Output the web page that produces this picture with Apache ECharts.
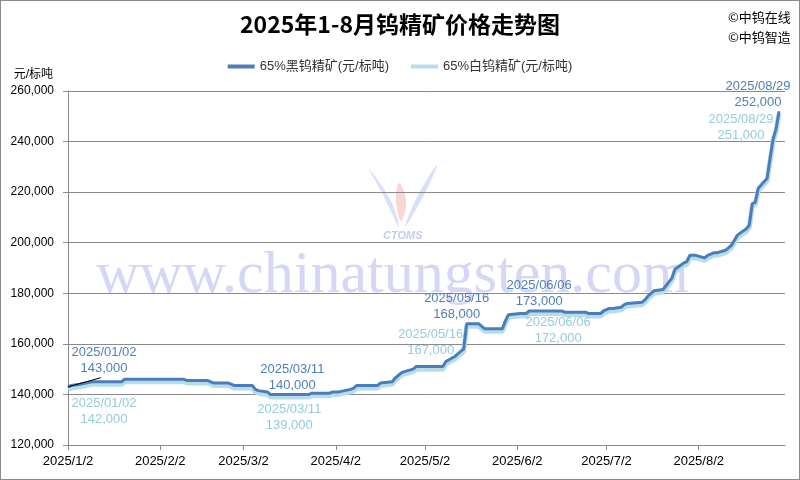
<!DOCTYPE html>
<html>
<head>
<meta charset="utf-8">
<script src="https://cdn.jsdelivr.net/npm/echarts@6/dist/echarts.min.js"></script>
<style>
html,body{margin:0;padding:0;background:#fff;}
#c{width:800px;height:480px;box-sizing:border-box;border:1px solid #8a8a8a;}
</style>
</head>
<body>
<div id="c"></div>
<script>
// ---- data ----
const dates = [
 '2025-01-02','2025-01-03','2025-01-06','2025-01-08','2025-01-10','2025-01-20','2025-01-21',
 '2025-02-10','2025-02-11','2025-02-18','2025-02-19','2025-02-20','2025-02-25','2025-02-26','2025-02-27',
 '2025-03-05','2025-03-06','2025-03-07','2025-03-10','2025-03-11','2025-03-24','2025-03-25','2025-03-31',
 '2025-04-01','2025-04-03','2025-04-07','2025-04-08','2025-04-09','2025-04-16','2025-04-17','2025-04-21',
 '2025-04-22','2025-04-24','2025-04-25','2025-04-28','2025-04-29',
 '2025-05-08','2025-05-09','2025-05-12','2025-05-13','2025-05-14','2025-05-15','2025-05-16','2025-05-20',
 '2025-05-21','2025-05-22','2025-05-28','2025-05-29','2025-05-30',
 '2025-06-03','2025-06-05','2025-06-06','2025-06-17','2025-06-18','2025-06-25','2025-06-26','2025-06-30',
 '2025-07-01','2025-07-02','2025-07-03','2025-07-04','2025-07-07','2025-07-08','2025-07-09','2025-07-14',
 '2025-07-15','2025-07-16','2025-07-17','2025-07-18','2025-07-21','2025-07-22','2025-07-23','2025-07-24',
 '2025-07-25','2025-07-28','2025-07-29','2025-07-30','2025-07-31',
 '2025-08-01','2025-08-04','2025-08-05','2025-08-06','2025-08-07','2025-08-08','2025-08-11','2025-08-12',
 '2025-08-13','2025-08-14','2025-08-15','2025-08-18','2025-08-19','2025-08-20','2025-08-21','2025-08-22',
 '2025-08-25','2025-08-26','2025-08-27','2025-08-28','2025-08-29'
];
const blackPrices = [
 143000,143500,144000,144500,145000,145000,146000,
 146000,145500,145500,145000,144500,144500,144000,143500,
 143500,142000,141500,141000,140000,140000,140500,140500,
 141000,141000,142000,142500,143500,143500,144500,145000,
 146500,148500,149000,150000,151000,
 151000,153000,155000,156000,157000,158000,168000,168000,
 167000,166000,166000,169000,171500,
 172000,172000,173000,173000,172500,172500,172000,172000,
 173000,173500,174000,174000,174500,175500,176000,176500,
 177500,179000,180000,181000,181500,183000,184500,186000,
 189500,192000,192500,195000,195000,
 195000,194000,195000,195500,196000,196000,197000,198000,
 199000,201000,203000,205500,207000,215500,216000,221500,
 225500,233500,241000,245000,252000
];
const whitePrices = [
 142000,142500,143000,143500,144000,144000,145000,
 145000,144500,144500,144000,143500,143500,143000,142500,
 142500,141000,140500,140000,139000,139000,139500,139500,
 140000,140000,141000,141500,142500,142500,143500,144000,
 145500,147500,148000,149000,150000,
 150000,152000,154000,155000,156000,157000,167000,167000,
 166000,165000,165000,168000,170500,
 171000,171000,172000,172000,171500,171500,171000,171000,
 172000,172500,173000,173000,173500,174500,175000,175500,
 176500,178000,179000,180000,180500,182000,183500,185000,
 188500,191000,191500,194000,194000,
 194000,193000,194000,194500,195000,195000,196000,197000,
 198000,200000,202000,204500,206000,214500,215000,220500,
 224500,232500,240000,244000,251000
];
const seriesNames = ['65%黑钨精矿(元/标吨)','65%白钨精矿(元/标吨)'];
const xTickDates = ['2025-01-02','2025-02-02','2025-03-02','2025-04-02','2025-05-02','2025-06-02','2025-07-02','2025-08-02'];
const xMinDate = '2025-01-02', xMaxDate = '2025-08-31';
const yMin = 120000, yMax = 260000, yStep = 20000;
const annotatedDates = ['2025-01-02','2025-03-11','2025-05-16','2025-06-06','2025-08-29'];
const leaderEnd = ['2025-01-13', 146600];

// ---- label placement (style only) ----
const blackOffsets = [[36,-26],[22,-17],[-10,-17],[10,-18],[-21,-17]];
const whiteOffsets = [[36,22],[19,20],[-36,16],[29,17],[-38,14]];

function ts(s){const p=s.split('-').map(Number);return new Date(p[0],p[1]-1,p[2]).getTime();}
function fmtNum(v){return String(v).replace(/\B(?=(\d{3})+(?!\d))/g,',');}
function fmtDate(s){return s.replace(/-/g,'/');}

const darkColor = '#4A7EBB', lightColor = '#B7DEE8';
const darkLabel = '#4F7FB8', lightLabel = '#93CCDD';
const numFont = "'Liberation Sans','Noto Sans CJK SC',sans-serif";

function makeMarks(values, offsets, color){
  return annotatedDates.map((d,i)=>{
    const idx = dates.indexOf(d);
    return {
      coord:[ts(d), values[idx]], value: values[idx],
      label:{show:true, position:'inside', offset:offsets[i], color:color,
        fontSize:13, lineHeight:16, fontFamily:numFont, align:'center',
        formatter: fmtDate(d)+'\n'+fmtNum(values[idx])}
    };
  });
}

const chart = echarts.init(document.getElementById('c'));
chart.setOption({
  animation:false,
  title:{text:'2025年1-8月钨精矿价格走势图', left:'center', top:7,
    textStyle:{fontSize:23, fontWeight:'bold', color:'#000', fontFamily:"'Noto Sans CJK SC',sans-serif"}},
  legend:{data:seriesNames, top:54, left:'center', icon:'rect', itemWidth:27, itemHeight:4, itemGap:22,
    textStyle:{fontSize:13, color:'#333', fontFamily:numFont}},
  grid:{left:67, right:14, top:90, bottom:34},
  xAxis:{type:'value', min:ts(xMinDate), max:ts(xMaxDate),
    axisLine:{show:true, lineStyle:{color:'#8a8a8a'}},
    axisTick:{show:true, length:5, lineStyle:{color:'#8a8a8a'}, customValues:xTickDates.map(ts)},
    axisLabel:{customValues:xTickDates.map(ts), color:'#000', fontSize:13, fontFamily:numFont, margin:10,
      formatter:function(v){const d=new Date(v);return d.getFullYear()+'/'+(d.getMonth()+1)+'/'+d.getDate();}},
    splitLine:{show:false}},
  yAxis:{type:'value', min:yMin, max:yMax, interval:yStep, name:'元/标吨',
    nameLocation:'end', nameGap:10,
    nameTextStyle:{fontSize:12, color:'#000', align:'right', padding:[0,15,0,0], fontFamily:numFont},
    axisLine:{show:true, lineStyle:{color:'#8a8a8a'}},
    axisTick:{show:true, length:5, lineStyle:{color:'#8a8a8a'}},
    axisLabel:{color:'#000', fontSize:12, fontFamily:numFont, margin:14, formatter:fmtNum},
    splitLine:{lineStyle:{color:'#8a8a8a', width:1}}},
  graphic:[
    {type:'polygon', z:0, silent:true,
      shape:{points:[[368,168],[380,190],[398,226],[390,200]], smooth:0.4},
      style:{fill:'rgba(90,110,220,0.22)'}},
    {type:'polygon', z:0, silent:true,
      shape:{points:[[436,164],[424,192],[404,226],[416,196]], smooth:0.4},
      style:{fill:'rgba(90,110,220,0.22)'}},
    {type:'polygon', z:0, silent:true,
      shape:{points:[[398,182],[405,200],[400,220],[395,200]], smooth:0.4},
      style:{fill:'rgba(225,90,90,0.25)'}},
    {type:'text', left:95, top:245, z:0, silent:true,
      style:{text:'www.chinatungsten.com', font:"60px 'Liberation Serif',serif", fill:'rgba(120,120,225,0.3)'}},
    {type:'text', left:382, top:229, z:0, silent:true,
      style:{text:'CTOMS', font:"italic bold 11px 'Liberation Sans',sans-serif", fill:'rgba(90,110,210,0.35)'}},
    {type:'text', left:727, top:10, style:{text:'©中钨在线', font:"13px 'Noto Sans CJK SC',sans-serif", fill:'#000'}},
    {type:'text', left:727, top:30, style:{text:'©中钨智造', font:"13px 'Noto Sans CJK SC',sans-serif", fill:'#000'}}
  ],
  series:[
    {name:seriesNames[0], type:'line', z:4, showSymbol:false, symbol:'none',
      data:dates.map((d,i)=>[ts(d), blackPrices[i]]),
      lineStyle:{color:darkColor, width:3}, itemStyle:{color:darkColor},
      markPoint:{symbol:'circle', symbolSize:1, itemStyle:{color:'rgba(0,0,0,0)'}, silent:true,
        data:makeMarks(blackPrices, blackOffsets, darkLabel)},
      markLine:{silent:true, symbol:['none','none'], label:{show:false},
        lineStyle:{color:'#000', width:1, type:'solid'},
        data:[[{coord:[ts(dates[0]), blackPrices[0]]},{coord:[ts(leaderEnd[0]), leaderEnd[1]]}]]}
    },
    {name:seriesNames[1], type:'line', z:3, showSymbol:false, symbol:'none',
      data:dates.map((d,i)=>[ts(d), whitePrices[i]]),
      lineStyle:{color:lightColor, width:5}, itemStyle:{color:lightColor},
      markPoint:{symbol:'circle', symbolSize:1, itemStyle:{color:'rgba(0,0,0,0)'}, silent:true,
        data:makeMarks(whitePrices, whiteOffsets, lightLabel)}
    }
  ]
});
</script>
</body>
</html>
